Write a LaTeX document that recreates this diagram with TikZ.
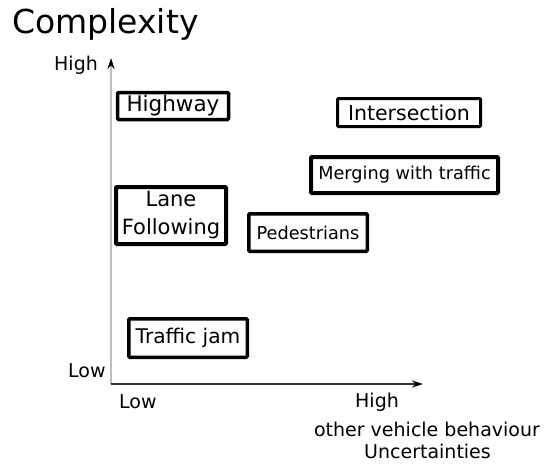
\documentclass[tikz,border=0pt]{standalone}
\usepackage{fontspec}
\setmainfont{DejaVu Sans}
\usetikzlibrary{arrows.meta}
\begin{document}
\begin{tikzpicture}[x=1pt,y=-1pt,
  lbl/.style={inner sep=0pt,font=\fontsize{19}{22}\selectfont},
  cbox/.style={draw=black,line width=3.5pt,rounded corners=1pt,inner sep=0pt,align=center,fill=white},
  axarrow/.style={-{Stealth[length=11pt,width=7pt,color=black]}}]
\useasboundingbox (0,0) rectangle (544,464);
% axes
\coordinate (org) at (111,384);
\coordinate (ytop) at (111,58);
\coordinate (xend) at (423,384);
\draw[axarrow,draw=black!25,line width=1.2pt] (org) -- (ytop);
\draw[axarrow,draw=black!80,line width=1.3pt] (org) -- (xend);
% title and labels
\node[anchor=base west,inner sep=0pt,font=\fontsize{33}{40}\selectfont] (title) at (12,33) {Complexity};
\node[lbl,anchor=base west] (yhigh) at (54,70) {High};
\node[lbl,anchor=base west] (ylow) at (68,377) {Low};
\node[lbl,anchor=base west] (xlow) at (119,408) {Low};
\node[lbl,anchor=base west] (xhigh) at (355,407) {High};
\node[lbl,anchor=base] (xname1) at (427,436) {other vehicle behaviour};
\node[lbl,anchor=base] (xname2) at (427.5,458) {Uncertainties};
% boxes
\node[cbox,minimum width=111pt,minimum height=27pt,font=\fontsize{21.5}{24}\selectfont] (highway) at (173,106) {Highway};
\node[cbox,line width=3pt,minimum width=143pt,minimum height=28pt,font=\fontsize{20.5}{24}\selectfont] (inter) at (409,112.5) {Intersection};
\node[cbox,line width=4pt,minimum width=187pt,minimum height=36pt,font=\fontsize{17.7}{21}\selectfont] (merge) at (404.5,175) {Merging with traffic};
\node[cbox,line width=4pt,minimum width=110pt,minimum height=57pt,font=\fontsize{21}{28}\selectfont] (lane) at (171,215.5) {Lane\\Following};
\node[cbox,minimum width=118.5pt,minimum height=37.5pt,font=\fontsize{17.7}{21}\selectfont] (ped) at (308,232.5) {Pedestrians};
\node[cbox,minimum width=118.5pt,minimum height=38.5pt,font=\fontsize{20.2}{24}\selectfont] (jam) at (188,338) {Traffic jam};
\end{tikzpicture}
\end{document}
